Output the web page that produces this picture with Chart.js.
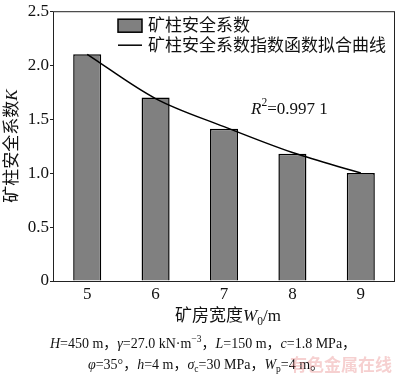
<!DOCTYPE html>
<html><head><meta charset="utf-8">
<script src="https://cdn.jsdelivr.net/npm/chart.js@4"></script>
<style>html,body{margin:0;padding:0;background:#fff}#w{width:400px;height:376px;position:relative}</style>
</head><body><div id="w"><canvas id="c"></canvas></div>
<script>
const categories = ['5','6','7','8','9'];
const barValues = [2.1, 1.7, 1.41, 1.18, 1.0];
const fitValues = [2.1, 1.69, 1.43, 1.19, 1.0];
const yTickLabels = ['0','0.5','1.0','1.5','2.0','2.5'];
const barLabel = '矿柱安全系数';
const fitLabel = '矿柱安全系数指数函数拟合曲线';
const r2Text = '0.997 1';

const SERIF = '"Liberation Serif","DejaVu Serif",serif';
const CJK = '"Liberation Serif","Noto Sans CJK SC",serif';

function richText(ctx, segs, cx, cy, size, align) {
  const parts = segs.map(s => {
    const fs = (s.sub || s.sup) ? size * 0.68 : size;
    const f = (s.i ? 'italic ' : '') + fs + 'px ' + CJK;
    ctx.font = f;
    return {s, f, w: ctx.measureText(s.t).width};
  });
  const total = parts.reduce((a, p) => a + p.w, 0);
  let x = align === 'left' ? cx : cx - total / 2;
  ctx.textBaseline = 'middle';
  ctx.textAlign = 'left';
  parts.forEach(p => {
    ctx.font = p.f;
    let y = cy;
    if (p.s.sub) y += size * 0.3;
    if (p.s.sup) y -= size * 0.35;
    ctx.fillText(p.s.t, x, y);
    x += p.w;
  });
}

const deco = {
  id: 'deco',
  afterDraw(chart) {
    const ctx = chart.ctx, a = chart.chartArea;
    const xs = chart.scales.x, ys = chart.scales.y;
    ctx.save();
    ctx.strokeStyle = '#222'; ctx.lineWidth = 1;
    ctx.strokeRect(a.left + 0.5, a.top + 0.5, a.right - a.left - 1, a.bottom - a.top);
    // legend
    const lx = a.left + 65;
    ctx.fillStyle = '#808080'; ctx.strokeStyle = '#000'; ctx.lineWidth = 1.5;
    ctx.fillRect(lx, a.top + 8, 24, 13); ctx.strokeRect(lx, a.top + 8, 24, 13);
    ctx.beginPath(); ctx.moveTo(lx, a.top + 34); ctx.lineTo(lx + 24, a.top + 34); ctx.stroke();
    ctx.fillStyle = '#111';
    richText(ctx, [{t: chart.data.datasets[0].label}], lx + 30, a.top + 15, 17, 'left');
    richText(ctx, [{t: chart.data.datasets[1].label}], lx + 30, a.top + 35, 17, 'left');
    // R2
    richText(ctx, [{t:'R', i:true},{t:'2', sup:true},{t:'=' + r2Text}],
      xs.getPixelForValue(2) + 27, ys.getPixelForValue(1.59), 17, 'left');
    // y title
    ctx.save();
    ctx.translate(13, (a.top + a.bottom) / 2);
    ctx.rotate(-Math.PI / 2);
    richText(ctx, [{t:'矿柱安全系数'},{t:'K', i:true}], 0, 0, 17);
    ctx.restore();
    // x title
    const cx = (a.left + a.right) / 2;
    richText(ctx, [{t:'矿房宽度'},{t:'W', i:true},{t:'0', sub:true},{t:'/m'}], cx + 4, a.bottom + 36, 17);
    // footer
    richText(ctx, [{t:'H',i:true},{t:'=450 m，'},{t:'γ',i:true},{t:'=27.0 kN·m'},{t:'−3',sup:true},
      {t:'，'},{t:'L',i:true},{t:'=150 m，'},{t:'c',i:true},{t:'=1.8 MPa，'}], 203, a.bottom + 63, 14);
    richText(ctx, [{t:'φ',i:true},{t:'=35°，'},{t:'h',i:true},{t:'=4 m，'},{t:'σ',i:true},{t:'c',sub:true},
      {t:'=30 MPa，'},{t:'W',i:true},{t:'p',sub:true},{t:'=4 m。'}], 206, a.bottom + 84, 14);
    ctx.globalAlpha = 0.4;
    ctx.fillStyle = '#e88a8a';
    ctx.font = 'bold 17px "Noto Sans CJK SC"';
    ctx.textAlign = 'left';
    ctx.fillText('有色金属在线', 290, a.bottom + 84);
    ctx.restore();
  }
};

new Chart(document.getElementById('c'), {
  type: 'bar',
  data: {
    labels: categories,
    datasets: [
      {type:'bar', label: barLabel, data: barValues, backgroundColor:'#808080', borderColor:'#000',
       borderWidth:1.5, categoryPercentage:1, barPercentage:0.41, order:1},
      {type:'line', label: fitLabel, data: fitValues, borderColor:'#000', borderWidth:1.5,
       pointRadius:0, fill:false, cubicInterpolationMode:'monotone', order:0}
    ]
  },
  options: {
    responsive: true, maintainAspectRatio: false, animation: false,
    layout: {padding: {left: 0, right: 5, top: 5, bottom: 69}},
    plugins: {legend: {display: false}, tooltip: {enabled: false}},
    scales: {
      x: {
        grid: {display: false, drawTicks: false}, border: {display: false},
        ticks: {color:'#111', font: {family: SERIF, size: 17}, padding: 3},
        afterFit(s) { s.height = 26; }
      },
      y: {
        min: 0, max: 2.5,
        grid: {display: true, drawOnChartArea: false, drawTicks: true, tickLength: 3, color: '#222'},
        border: {display: false},
        ticks: {stepSize: 0.5, color:'#111', font: {family: SERIF, size: 17}, padding: 1,
          callback: (v, i) => yTickLabels[i]},
        afterFit(s) { s.width = 53; }
      }
    }
  },
  plugins: [deco]
});
</script></body></html>
